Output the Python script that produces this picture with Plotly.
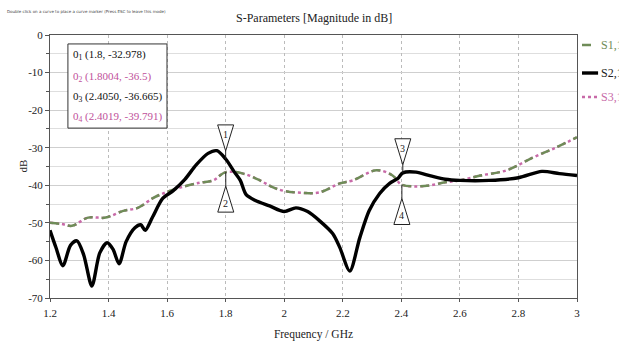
import plotly.graph_objects as go

# ---- data ----
s21_freq = [1.20, 1.22, 1.244, 1.27, 1.292, 1.315, 1.343, 1.37, 1.395, 1.415, 1.436, 1.46,
            1.49, 1.51, 1.525, 1.55, 1.585, 1.62, 1.66, 1.70, 1.74, 1.77, 1.80, 1.83,
            1.85, 1.87, 1.90, 1.95, 2.00, 2.04, 2.08, 2.12, 2.166, 2.19, 2.224, 2.258,
            2.29, 2.326, 2.36, 2.388, 2.405, 2.45, 2.50, 2.55, 2.60, 2.70, 2.80, 2.88,
            2.94, 3.00]
s21_db = [-52.0, -56.5, -61.4, -56.0, -54.8, -58.5, -66.8, -58.0, -55.3, -57.0, -60.9, -55.0,
          -51.3, -50.5, -52.0, -48.5, -43.5, -41.5, -38.5, -34.5, -31.5, -30.8, -33.0, -36.5,
          -38.7, -42.5, -44.0, -45.5, -47.0, -46.0, -47.0, -49.4, -52.9, -56.6, -62.8, -54.0,
          -46.8, -42.2, -39.5, -38.2, -36.7, -36.5, -37.5, -38.4, -38.7, -38.7, -38.0, -36.3,
          -36.9, -37.4]

s11_freq = [1.20, 1.24, 1.275, 1.33, 1.39, 1.45, 1.50, 1.55, 1.585, 1.65, 1.712, 1.757,
            1.80, 1.86, 1.917, 1.96, 2.00, 2.06, 2.12, 2.19, 2.234, 2.316, 2.37, 2.40,
            2.45, 2.50, 2.55, 2.60, 2.67, 2.76, 2.85, 2.93, 3.00]
s11_db = [-50.0, -50.3, -50.8, -48.6, -48.6, -46.8, -46.0, -43.5, -42.2, -40.5, -39.3, -38.7,
          -36.5, -36.9, -38.7, -40.5, -41.5, -42.0, -41.9, -39.5, -38.7, -36.0, -37.4, -39.8,
          -40.3, -40.0, -39.2, -38.7, -37.4, -36.0, -32.6, -29.9, -27.2]

s31_freq = [1.20, 1.24, 1.275, 1.33, 1.39, 1.45, 1.50, 1.55, 1.585, 1.65, 1.712, 1.757,
            1.80, 1.86, 1.917, 1.96, 2.00, 2.06, 2.12, 2.19, 2.234, 2.316, 2.37, 2.40,
            2.45, 2.50, 2.55, 2.60, 2.67, 2.76, 2.85, 2.93, 3.00]
s31_db = [-50.0, -50.3, -50.8, -48.6, -48.6, -46.8, -46.0, -43.5, -42.2, -40.5, -39.3, -38.7,
          -36.5, -36.9, -38.7, -40.5, -41.5, -42.0, -41.9, -39.5, -38.7, -36.0, -37.4, -39.8,
          -40.3, -40.0, -39.2, -38.7, -37.4, -36.0, -32.6, -29.9, -27.2]

series_names = ["S1,1", "S2,1", "S3,1"]

marker_ids = ["1", "2", "3", "4"]
marker_freq = [1.8, 1.8004, 2.4050, 2.4019]
marker_freq_text = ["1.8", "1.8004", "2.4050", "2.4019"]
marker_db = [-32.978, -36.5, -36.665, -39.791]
marker_db_text = ["-32.978", "-36.5", "-36.665", "-39.791"]
marker_above = [True, False, True, False]
marker_colors = ["#111111", "#c0509a", "#111111", "#c0509a"]

x_tick_vals = [1.2, 1.4, 1.6, 1.8, 2.0, 2.2, 2.4, 2.6, 2.8, 3.0]
x_tick_text = ["1.2", "1.4", "1.6", "1.8", "2", "2.2", "2.4", "2.6", "2.8", "3"]
y_tick_vals = [0, -10, -20, -30, -40, -50, -60, -70]
y_tick_text = ["0", "-10", "-20", "-30", "-40", "-50", "-60", "-70"]

SERIF = "Liberation Serif"
COL_S11 = "#6f8c58"
COL_S21 = "#000000"
COL_S31 = "#c86aa8"

fig = go.Figure()
fig.add_trace(go.Scatter(x=s31_freq, y=s31_db, name=series_names[2], mode="lines", showlegend=False,
                         line=dict(color=COL_S31, width=2.5, dash="dot", shape="spline")))
fig.add_trace(go.Scatter(x=s11_freq, y=s11_db, name=series_names[0], mode="lines", showlegend=False,
                         line=dict(color=COL_S11, width=2.5, dash="dash", shape="spline")))
fig.add_trace(go.Scatter(x=s21_freq, y=s21_db, name=series_names[1], mode="lines", showlegend=False,
                         line=dict(color=COL_S21, width=3.4, shape="spline", smoothing=0.8)))

# marker triangles (pixel-sized shapes anchored at marker values)
for mid, fx, db, above in zip(marker_ids, marker_freq, marker_db, marker_above):
    if above:
        path = "M0,0 L0,8 M0,8 L-8,34 L8,34 Z"
        shift = 24
    else:
        path = "M0,0 L0,-14 M0,-14 L-8,-40 L8,-40 Z"
        shift = -31
    fig.add_shape(type="path", xref="x", yref="y", xsizemode="pixel", ysizemode="pixel",
                  xanchor=fx, yanchor=db, path=path,
                  line=dict(color="#222222", width=1), fillcolor="rgba(255,255,255,0.9)")
    fig.add_annotation(x=fx, y=db, xref="x", yref="y", text=mid, showarrow=False,
                       yshift=shift, font=dict(family=SERIF, size=10, color="#222"))

# marker table box
fig.add_shape(type="rect", xref="paper", yref="paper", x0=0.034, x1=0.222, y0=0.646, y1=0.966,
              line=dict(color="#333", width=1), fillcolor="white")
table_y = [0.924, 0.842, 0.764, 0.688]
for mid, ft, dt, col, ty in zip(marker_ids, marker_freq_text, marker_db_text, marker_colors, table_y):
    txt = f"0<sub>{mid}</sub> ({ft}, {dt})"
    fig.add_annotation(x=0.040, y=ty, xref="paper", yref="paper", text=txt,
                       showarrow=False, xanchor="left", yanchor="middle",
                       font=dict(family=SERIF, size=11, color=col))

# manual legend (right edge, clipped by the window)
legend_y = [0.962, 0.8555, 0.764]
legend_cols = [COL_S11, COL_S21, COL_S31]
legend_dash = ["dash", "solid", "dot"]
legend_w = [2.5, 3.4, 2.5]
for name, ly, col, dsh, w in zip(series_names, legend_y, legend_cols, legend_dash, legend_w):
    fig.add_shape(type="line", xref="paper", yref="paper", x0=1.0095, x1=1.040, y0=ly, y1=ly,
                  line=dict(color=col, width=w, dash=dsh))
    fig.add_annotation(x=1.0417, y=ly, xref="paper", yref="paper", text=name, showarrow=False,
                       xanchor="left", yanchor="middle",
                       font=dict(family=SERIF, size=12, color="#222" if col == COL_S21 else col))

fig.add_annotation(x=-0.085, y=1.091, xref="paper", yref="paper", xanchor="left", yanchor="middle",
                   text="Double click on a curve to place a curve marker (Press ESC to leave this mode)",
                   showarrow=False, font=dict(family="DejaVu Sans", size=4, color="#444"))

fig.add_annotation(x=0.5, y=1.065, xref="paper", yref="paper", xanchor="center", yanchor="middle",
                   text="S-Parameters [Magnitude in dB]", showarrow=False,
                   font=dict(family=SERIF, size=12, color="#222"))

fig.add_annotation(x=-0.053, y=0.5, xref="paper", yref="paper", xanchor="center", yanchor="middle",
                   text="dB", textangle=-90, showarrow=False,
                   font=dict(family=SERIF, size=11, color="#222"))

fig.update_layout(
    width=619, height=349,
    margin=dict(l=50, r=42, t=35, b=51),
    paper_bgcolor="white", plot_bgcolor="white",
    showlegend=False,
    xaxis=dict(range=[1.2, 3.0], tickvals=x_tick_vals, ticktext=x_tick_text, automargin=False,
               showgrid=True, gridcolor="#bbbbbb", griddash="dot", gridwidth=1,
               showline=True, linecolor="#555", mirror=True, linewidth=1,
               ticks="outside", ticklen=3, tickcolor="#555", zeroline=False,
               ticklabelstandoff=2,
               tickfont=dict(family=SERIF, size=11, color="#222"),
               title=dict(text="Frequency / GHz", font=dict(family=SERIF, size=11.5, color="#222"), standoff=11)),
    yaxis=dict(range=[-70, 0], tickvals=y_tick_vals, ticktext=y_tick_text, automargin=False,
               showgrid=True, gridcolor="#cfcfcf", gridwidth=1,
               minor=dict(dtick=5, showgrid=True, gridcolor="#dedede", ticks="outside", ticklen=3, tickcolor="#555"),
               showline=True, linecolor="#555", mirror=True, linewidth=1,
               ticks="outside", ticklen=4, tickcolor="#555", zeroline=False,
               tickfont=dict(family=SERIF, size=11, color="#222")),
)

# remove the default page margin so the 619x349 figure fills the window exactly
fig.write_html("out.html", config={"displayModeBar": False},
               post_script="document.body.style.margin='0';document.body.style.overflow='hidden';")
